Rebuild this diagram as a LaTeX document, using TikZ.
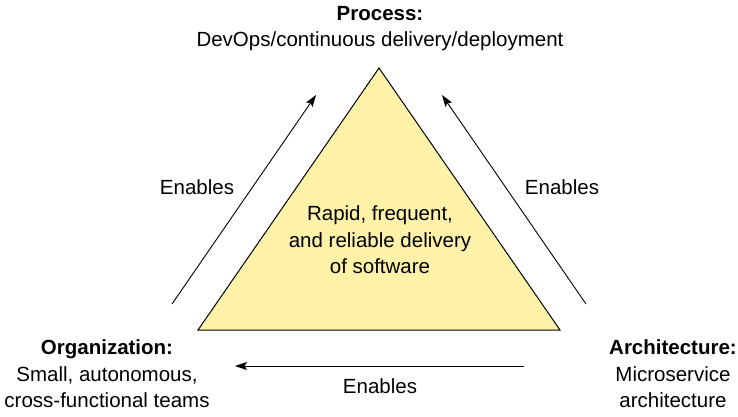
\documentclass[tikz,border=0pt]{standalone}
\usepackage{fontspec}
\setmainfont{Liberation Sans}
\usetikzlibrary{arrows.meta}
\definecolor{deliveryyellow}{RGB}{253,242,168}

\begin{document}
\begin{tikzpicture}[x=1pt,y=-1pt,font=\fontsize{20.5}{26.5}\selectfont,every node/.style={align=center,inner sep=0pt},
  enables/.style={-{Stealth[length=12pt,width=8pt,inset=2.5pt]},line width=0.9pt}]
\useasboundingbox (0,0) rectangle (738,417);

\fill[deliveryyellow,draw=black,line width=1pt] (379,68) coordinate(apex)--(560,330) coordinate(right)--(198,330) coordinate(left)--cycle;
\node (goal) at (380,240) {Rapid, frequent,\\and reliable delivery\\of software};

\node (process) at (380,28.5) {\textbf{Process:}\\DevOps/continuous delivery/deployment};
\node (org) at (107,374) {\textbf{Organization:}\\Small, autonomous,\\cross-functional teams};
\node (arch) at (673,374) {\textbf{Architecture:}\\Microservice\\architecture};

\coordinate (orgfrom) at (172,304); \coordinate (orgto) at (316,95);
\coordinate (archfrom) at (586,304); \coordinate (archto) at (442,95);
\coordinate (basefrom) at (524,366); \coordinate (baseto) at (235,366);
\draw[enables] (orgfrom)--(orgto);
\draw[enables] (archfrom)--(archto);
\draw[enables] (basefrom)--(baseto);
\node (en1) at (197,187) {Enables};
\node (en2) at (562,187) {Enables};
\node (en3) at (380,386) {Enables};
\end{tikzpicture}
\end{document}
